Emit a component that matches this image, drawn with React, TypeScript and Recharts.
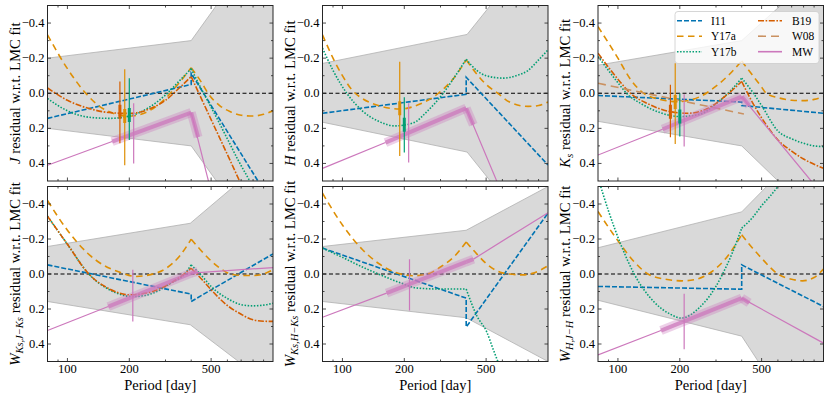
import React from 'react';
import { ComposedChart, Line, Area, XAxis, YAxis, ReferenceLine } from 'recharts';

// ---------- styles / legend ----------
const COLORS: Record<string, string> = {
  I11: '#0173B2', Y17a: '#DE8F05', Y17b: '#029E73', B19: '#D55E00', W08: '#CA9161', MW: '#CC78BC',
};
const DASH: Record<string, string | undefined> = {
  I11: '5 2', Y17a: '6.5 4.5', Y17b: '1.5 1.6', B19: '6 1.6 1.6 1.6', W08: '8 5', MW: undefined,
};
const CURVE: Record<string, string> = { I11: 'linear', Y17a: 'monotone', Y17b: 'monotone', B19: 'monotone', W08: 'linear' };
const LEGEND_COL1 = ['I11', 'Y17a', 'Y17b'];
const LEGEND_COL2 = ['B19', 'W08', 'MW'];

// ---------- axes ----------
const X_DOMAIN = [80, 1000];
const X_MAJOR = [100, 200, 500];
const X_MINOR = [90, 300, 400, 600, 700, 800, 900];
const Y_MAJOR = [-0.4, -0.2, 0, 0.2, 0.4];
const Y_MINOR = [-0.3, -0.1, 0.1, 0.3];
const X_LABEL = 'Period [day]';

// ---------- Panel 1: J ----------
const J_BAND = [[80, -0.2, 0.2], [400, -0.3, 0.3], [1000, -0.95, 0.95]];
const J_I11 = [[80, 0.143], [400, -0.05], [400, -0.114], [1000, 0.638]];
const J_Y17A_A = [[80, -0.333], [100, -0.14], [125, 0.01], [150, 0.09], [200, 0.13], [250, 0.1], [300, 0.03], [350, -0.06], [400, -0.145]];
const J_Y17A_B = [[400, -0.145], [450, -0.06], [483, 0.0], [550, 0.07], [617, 0.104], [700, 0.125], [800, 0.13], [900, 0.12], [1000, 0.1]];
const J_Y17B_A = [[80, 0.03], [100, 0.1], [130, 0.138], [160, 0.143], [200, 0.13], [250, 0.08], [300, 0.01], [350, -0.07], [400, -0.14]];
const J_Y17B_B = [[400, -0.14], [450, -0.02], [500, 0.08], [600, 0.26], [676, 0.38], [770, 0.5], [850, 0.6]];
const J_B19_A = [[80, -0.03], [100, 0.04], [130, 0.09], [160, 0.11], [200, 0.115], [250, 0.09], [300, 0.04], [350, -0.03], [400, -0.095]];
const J_B19_B = [[400, -0.095], [450, 0.035], [500, 0.15], [617, 0.38], [700, 0.52]];
const J_MW_THIN_A = [[80, 0.41], [165, 0.275]];
const J_MW_THIN_B = [[400, 0.11], [520, 0.64]];
const J_MW_THICK_A = [[165, 0.275], [400, 0.11]];
const J_MW_THICK_B = [[400, 0.11], [432, 0.25]];
const J_ERR = [['B19', 180, -0.067, 0.285, 0.105], ['Y17a', 190, -0.137, 0.41, 0.13], ['Y17b', 200, -0.086, 0.266, 0.124], ['MW', 210, 0.057, 0.4, 0.228]];

// ---------- Panel 2: H ----------
const H_BAND = [[80, -0.17, 0.165], [404, -0.335, 0.335], [1000, -0.91, 0.91]];
const H_I11 = [[80, 0.114], [400, 0.006], [400, -0.091], [1000, 0.409]];
const H_Y17A_A = [[80, -0.333], [90, -0.2], [100, -0.1], [111, -0.02], [125, 0.03], [150, 0.07], [190, 0.09], [240, 0.06], [293, 0.0], [350, -0.09], [400, -0.19]];
const H_Y17A_B = [[400, -0.19], [450, -0.11], [500, -0.05], [570, 0.0], [650, 0.05], [800, 0.075], [900, 0.07], [1000, 0.05]];
const H_Y17B_A = [[80, -0.257], [90, -0.13], [105, 0.0], [125, 0.1], [150, 0.16], [180, 0.186], [220, 0.17], [260, 0.1], [300, 0.02], [350, -0.09], [400, -0.194]];
const H_Y17B_B = [[400, -0.194], [450, -0.13], [500, -0.1], [607, -0.086], [700, -0.1], [800, -0.13], [900, -0.19], [1000, -0.247]];
const H_MW_THIN_A = [[80, 0.428], [162, 0.281]];
const H_MW_THIN_B = [[400, 0.085], [563, 0.5], [600, 0.58]];
const H_MW_THICK_A = [[162, 0.281], [400, 0.085]];
const H_MW_THICK_B = [[400, 0.085], [433, 0.18]];
const H_ERR = [['Y17a', 190, -0.18, 0.357, 0.086], ['Y17b', 200, 0.023, 0.338, 0.18], ['MW', 210, 0.057, 0.395, 0.228]];

// ---------- Panel 3: Ks ----------
const K_BAND = [[80, -0.16, 0.16], [400, -0.3, 0.3], [1000, -0.72, 0.75]];
const K_I11 = [[80, 0.013], [400, 0.05], [400, 0.07], [1000, 0.114]];
const K_W08 = [[80, -0.057], [410, 0.118]];
const K_Y17A_A = [[80, -0.38], [100, -0.2], [115, -0.08], [130, -0.01], [160, 0.035], [195, 0.048], [250, 0.02], [300, -0.04], [350, -0.11], [400, -0.184]];
const K_Y17A_B = [[400, -0.184], [450, -0.105], [500, -0.035], [526, 0.0], [600, 0.025], [700, 0.04], [800, 0.042], [900, 0.035], [1000, 0.019]];
const K_Y17B_A = [[80, -0.209], [100, -0.06], [110, 0.0], [130, 0.06], [160, 0.11], [200, 0.133], [250, 0.12], [300, 0.06], [350, -0.01], [400, -0.086]];
const K_Y17B_B = [[400, -0.086], [450, -0.01], [500, 0.07], [600, 0.215], [700, 0.26], [800, 0.285], [900, 0.3], [1000, 0.304]];
const K_B19_A = [[80, -0.228], [100, -0.08], [115, 0.0], [140, 0.06], [180, 0.105], [220, 0.114], [270, 0.09], [330, 0.02], [400, -0.067]];
const K_B19_B = [[400, -0.067], [450, 0.05], [500, 0.14], [600, 0.266], [700, 0.33], [800, 0.375], [900, 0.405], [1000, 0.428]];
const K_MW_THIN_A = [[80, 0.352], [165, 0.205]];
const K_MW_THIN_B = [[400, 0.019], [871, 0.5], [1000, 0.59]];
const K_MW_THICK_A = [[165, 0.205], [400, 0.019]];
const K_MW_THICK_B = [[400, 0.019], [435, 0.07]];
const K_ERR = [['B19', 180, -0.048, 0.251, 0.105], ['Y17a', 190, -0.171, 0.289, 0.05], ['Y17b', 200, 0.0, 0.247, 0.133], ['MW', 210, 0.006, 0.304, 0.155]];

// ---------- Panel 4: W Ks,J-Ks ----------
const W1_BAND = [[80, -0.157, 0.157], [396, -0.29, 0.29], [1000, -0.69, 0.65]];
const W1_I11 = [[80, -0.052], [400, 0.115], [400, 0.157], [1000, -0.115]];
const W1_Y17A_A = [[80, -0.42], [100, -0.25], [125, -0.12], [150, -0.05], [180, -0.01], [215, 0.014], [250, 0.005], [300, -0.03], [350, -0.1], [400, -0.199]];
const W1_Y17A_B = [[400, -0.199], [450, -0.13], [500, -0.075], [550, -0.035], [620, 0.0], [700, 0.008], [800, 0.009], [900, 0.0], [1000, -0.024]];
const W1_Y17B_A = [[80, -0.33], [100, -0.17], [127, 0.0], [160, 0.09], [210, 0.129], [260, 0.11], [320, 0.05], [372, 0.0], [400, -0.052]];
const W1_Y17B_B = [[400, -0.052], [450, 0.01], [500, 0.071], [600, 0.14], [700, 0.175], [800, 0.182], [900, 0.178], [1000, 0.167]];
const W1_B19_A = [[80, -0.33], [100, -0.17], [127, 0.0], [160, 0.085], [200, 0.119], [250, 0.105], [320, 0.05], [370, 0.0], [400, -0.033]];
const W1_B19_B = [[400, -0.033], [450, 0.03], [500, 0.09], [600, 0.18], [700, 0.23], [800, 0.262], [900, 0.27], [1000, 0.271]];
const W1_MW_THIN_A = [[80, 0.323], [158, 0.186]];
const W1_MW_THIN_B = [[400, -0.005], [1000, -0.037]];
const W1_MW_THICK_A = [[158, 0.186], [400, -0.005]];
const W1_MW_THICK_B = [[400, -0.005], [430, -0.016]];
const W1_ERR = [['MW', 208, -0.024, 0.271, 0.13]];

// ---------- Panel 5: W Ks,H-Ks ----------
const W2_BAND = [[80, -0.157, 0.157], [400, -0.25, 0.25], [1000, -0.5, 0.5]];
const W2_I11 = [[80, -0.148], [400, 0.138], [400, 0.303], [1000, -0.348]];
const W2_Y17A_A = [[80, -0.462], [100, -0.28], [125, -0.14], [150, -0.06], [180, -0.01], [221, 0.01], [260, 0.0], [300, -0.04], [350, -0.1], [400, -0.183]];
const W2_Y17A_B = [[400, -0.183], [450, -0.115], [500, -0.06], [585, -0.01], [650, 0.0], [750, 0.005], [850, -0.005], [1000, -0.047]];
const W2_Y17B_A = [[80, -0.148], [100, -0.095], [125, -0.04], [153, 0.005], [191, 0.05], [230, 0.08], [300, 0.086], [400, 0.086]];
const W2_Y17B_B = [[400, 0.086], [451, 0.24], [503, 0.33], [541, 0.43], [575, 0.51], [620, 0.6]];
const W2_MW_THIN_A = [[80, 0.247], [164, 0.109]];
const W2_MW_THIN_B = [[434, -0.085], [733, -0.252], [1000, -0.35]];
const W2_MW_THICK_A = [[164, 0.109], [400, -0.069]];
const W2_MW_THICK_B = [[400, -0.069], [434, -0.085]];
const W2_ERR = [['MW', 212, -0.085, 0.209, 0.065]];

// ---------- Panel 6: W H,J-H ----------
const W3_BAND = [[80, -0.15, 0.15], [400, -0.355, 0.355], [1000, -0.83, 1.07]];
const W3_I11 = [[80, 0.071], [400, 0.087], [400, -0.052], [1000, 0.186]];
const W3_Y17A_A = [[80, -0.357], [100, -0.19], [120, -0.07], [140, 0.0], [170, 0.03], [205, 0.039], [240, 0.03], [275, 0.0], [330, -0.08], [400, -0.224]];
const W3_Y17A_B = [[400, -0.224], [450, -0.15], [500, -0.09], [600, 0.0], [700, 0.03], [790, 0.039], [900, 0.02], [1000, -0.028]];
const W3_Y17B_A = [[80, -0.55], [90, -0.36], [104, -0.16], [120, 0.0], [150, 0.16], [180, 0.23], [203, 0.252], [250, 0.19], [300, 0.07], [323, 0.0], [360, -0.12], [400, -0.262]];
const W3_Y17B_B = [[400, -0.262], [450, -0.32], [500, -0.39], [550, -0.445], [600, -0.5], [700, -0.62]];
const W3_MW_THIN_A = [[80, 0.462], [162, 0.323]];
const W3_MW_THIN_B = [[400, 0.138], [1000, 0.395]];
const W3_MW_THICK_A = [[162, 0.323], [400, 0.138]];
const W3_MW_THICK_B = [[400, 0.138], [435, 0.165]];
const W3_ERR = [['MW', 210, 0.113, 0.43, 0.27]];

// ---------- layout ----------
const W = 830;
const H = 397;
const FONT = "'Liberation Serif', 'DejaVu Serif', serif";
const COL_X = [[47.5, 273], [322.5, 548], [598, 823.5]];
const ROW_Y = [[5.5, 181], [186.5, 361.5]];

type Box = { l: number; r: number; t: number; b: number };

const pts = (a: number[][]) => a.map(([P, v]) => ({ P, v }));
const bandPts = (a: number[][]) => a.map(([P, lo, hi]) => ({ P, r: [lo, hi] }));

const PANELS = [
  {
    col: 0, row: 0, band: J_BAND,
    series: [['I11', J_I11], ['Y17a', J_Y17A_A, J_Y17A_B], ['Y17b', J_Y17B_A, J_Y17B_B], ['B19', J_B19_A, J_B19_B]],
    mwThin: [J_MW_THIN_A, J_MW_THIN_B], mwThick: [J_MW_THICK_A, J_MW_THICK_B], errs: J_ERR,
    title: { main: 'J', sub: '' },
  },
  {
    col: 1, row: 0, band: H_BAND,
    series: [['I11', H_I11], ['Y17a', H_Y17A_A, H_Y17A_B], ['Y17b', H_Y17B_A, H_Y17B_B]],
    mwThin: [H_MW_THIN_A, H_MW_THIN_B], mwThick: [H_MW_THICK_A, H_MW_THICK_B], errs: H_ERR,
    title: { main: 'H', sub: '' },
  },
  {
    col: 2, row: 0, band: K_BAND,
    series: [['I11', K_I11], ['Y17a', K_Y17A_A, K_Y17A_B], ['Y17b', K_Y17B_A, K_Y17B_B], ['B19', K_B19_A, K_B19_B], ['W08', K_W08]],
    mwThin: [K_MW_THIN_A, K_MW_THIN_B], mwThick: [K_MW_THICK_A, K_MW_THICK_B], errs: K_ERR,
    title: { main: 'K', sub: 's' },
  },
  {
    col: 0, row: 1, band: W1_BAND,
    series: [['I11', W1_I11], ['Y17a', W1_Y17A_A, W1_Y17A_B], ['Y17b', W1_Y17B_A, W1_Y17B_B], ['B19', W1_B19_A, W1_B19_B]],
    mwThin: [W1_MW_THIN_A, W1_MW_THIN_B], mwThick: [W1_MW_THICK_A, W1_MW_THICK_B], errs: W1_ERR,
    title: { main: 'W', sub: 'Ks,J\u2212Ks' },
  },
  {
    col: 1, row: 1, band: W2_BAND,
    series: [['I11', W2_I11], ['Y17a', W2_Y17A_A, W2_Y17A_B], ['Y17b', W2_Y17B_A, W2_Y17B_B]],
    mwThin: [W2_MW_THIN_A, W2_MW_THIN_B], mwThick: [W2_MW_THICK_A, W2_MW_THICK_B], errs: W2_ERR,
    title: { main: 'W', sub: 'Ks,H\u2212Ks' },
  },
  {
    col: 2, row: 1, band: W3_BAND,
    series: [['I11', W3_I11], ['Y17a', W3_Y17A_A, W3_Y17A_B], ['Y17b', W3_Y17B_A, W3_Y17B_B]],
    mwThin: [W3_MW_THIN_A, W3_MW_THIN_B], mwThick: [W3_MW_THICK_A, W3_MW_THICK_B], errs: W3_ERR,
    title: { main: 'W', sub: 'H,J\u2212H' },
  },
];

const X_TICKS = [...X_MINOR, ...X_MAJOR].sort((a, b) => a - b);
const Y_TICKS = [...Y_MINOR, ...Y_MAJOR].sort((a, b) => a - b);

const fmtY = (v: number) => (Math.abs(v) < 1e-9 ? '0.0' : (v < 0 ? '\u2212' : '') + Math.abs(v).toFixed(1));

const makeXTick = (box: Box, showLabel: boolean) => (props: any) => {
  const { x, payload } = props;
  const v = payload.value;
  const major = X_MAJOR.includes(v);
  const len = major ? 3.5 : 2;
  return (
    <g>
      <line x1={x} x2={x} y1={box.b} y2={box.b - len} stroke="#222" strokeWidth={0.8} />
      <line x1={x} x2={x} y1={box.t} y2={box.t + len} stroke="#222" strokeWidth={0.8} />
      {showLabel && major ? (
        <text x={x} y={box.b + 11} textAnchor="middle" fontSize={12.5} fontFamily={FONT} fill="#000">{v}</text>
      ) : null}
    </g>
  );
};

const makeYTick = (box: Box) => (props: any) => {
  const { y, payload } = props;
  const v = payload.value;
  const major = Y_MAJOR.some((m) => Math.abs(m - v) < 1e-9);
  const len = major ? 3.5 : 2;
  return (
    <g>
      <line x1={box.l} x2={box.l + len} y1={y} y2={y} stroke="#222" strokeWidth={0.8} />
      <line x1={box.r} x2={box.r - len} y1={y} y2={y} stroke="#222" strokeWidth={0.8} />
      {major ? (
        <text x={box.l - 3} y={y} textAnchor="end" dominantBaseline="central" fontSize={12.5} fontFamily={FONT} fill="#000">{fmtY(v)}</text>
      ) : null}
    </g>
  );
};

function Panel({ cfg }: { cfg: any }) {
  const box: Box = { l: COL_X[cfg.col][0], r: COL_X[cfg.col][1], t: ROW_Y[cfg.row][0], b: ROW_Y[cfg.row][1] };
  const margin = { top: box.t, left: box.l - 1, right: W - box.r, bottom: H - box.b - 1 };
  const lines: any[] = [];
  cfg.series.forEach((s: any[]) => {
    const name = s[0] as string;
    s.slice(1).forEach((seg: number[][], i: number) => {
      lines.push(
        <Line key={`${name}-${i}`} data={pts(seg)} dataKey="v" type={CURVE[name] as any} stroke={COLORS[name]}
          strokeWidth={1.6} strokeDasharray={DASH[name]} dot={false} activeDot={false} isAnimationActive={false} />
      );
    });
  });
  cfg.mwThin.forEach((seg: number[][], i: number) => {
    lines.push(<Line key={`mwthin-${i}`} data={pts(seg)} dataKey="v" type="linear" stroke={COLORS.MW}
      strokeWidth={1.2} dot={false} activeDot={false} isAnimationActive={false} />);
  });
  cfg.mwThick.forEach((seg: number[][], i: number) => {
    lines.push(<Line key={`mwhalo-${i}`} data={pts(seg)} dataKey="v" type="linear" stroke={COLORS.MW}
      strokeOpacity={0.35} strokeWidth={9} dot={false} activeDot={false} isAnimationActive={false} />);
    lines.push(<Line key={`mwthick-${i}`} data={pts(seg)} dataKey="v" type="linear" stroke={COLORS.MW}
      strokeOpacity={0.75} strokeWidth={4} dot={false} activeDot={false} isAnimationActive={false} />);
  });
  cfg.errs.forEach((e: any[], i: number) => {
    const [name, P, lo, hi, c] = e;
    lines.push(<Line key={`err-${i}`} data={[{ P, v: lo }, { P, v: hi }]} dataKey="v" type="linear" stroke={COLORS[name]}
      strokeWidth={1.2} dot={false} activeDot={false} isAnimationActive={false} />);
    if (name !== 'MW') {
      lines.push(<Line key={`errc-${i}`} data={[{ P, v: c - 0.04 }, { P, v: c + 0.04 }]} dataKey="v" type="linear" stroke={COLORS[name]}
        strokeWidth={3} dot={false} activeDot={false} isAnimationActive={false} />);
    }
  });
  return (
    <div style={{ position: 'absolute', left: 0, top: 0 }}>
      <ComposedChart width={W} height={H} margin={margin}>
        <XAxis xAxisId={0} dataKey="P" type="number" scale="log" domain={X_DOMAIN} allowDataOverflow ticks={X_TICKS} interval={0}
          height={1} axisLine={false} tickLine={false} tickSize={0} tick={makeXTick(box, cfg.row === 1)} />
        <YAxis yAxisId={0} type="number" domain={[-0.5, 0.5]} reversed allowDataOverflow ticks={Y_TICKS} interval={0}
          width={1} axisLine={false} tickLine={false} tickSize={0} tick={makeYTick(box)} />
        <Area data={bandPts(cfg.band)} dataKey="r" type="linear" fill="#d9d9d9" fillOpacity={1} stroke="#b0b0b0"
          strokeWidth={0.8} dot={false} activeDot={false} isAnimationActive={false} />
        <ReferenceLine y={0} stroke="#000" strokeWidth={1.2} strokeDasharray="4 2.5" />
        {lines}
      </ComposedChart>
    </div>
  );
}

function Overlay() {
  const legendRows = [0, 1, 2];
  const rowY = [20.7, 36.2, 51.7];
  return (
    <svg width={W} height={H} style={{ position: 'absolute', left: 0, top: 0, pointerEvents: 'none' }}>
      {PANELS.map((p, i) => {
        const l = COL_X[p.col][0];
        const r = COL_X[p.col][1];
        const t = ROW_Y[p.row][0];
        const b = ROW_Y[p.row][1];
        const cx = l - 28;
        const cy = (t + b) / 2;
        return (
          <g key={`t-${i}`}>
            <rect x={l} y={t} width={r - l} height={b - t} fill="none" stroke="#262626" strokeWidth={1} />
            <text transform={`translate(${cx},${cy}) rotate(-90)`} textAnchor="middle" fontSize={14.7} fontFamily={FONT} fill="#000">
              <tspan fontStyle="italic">{p.title.main}</tspan>
              {p.title.sub ? <tspan fontStyle="italic" fontSize={10.5} dy={3}>{p.title.sub}</tspan> : null}
              <tspan dy={p.title.sub ? -3 : 0}>{' residual w.r.t. LMC fit'}</tspan>
            </text>
            {p.row === 1 ? (
              <text x={(l + r) / 2} y={389.5} textAnchor="middle" fontSize={14.5} fontFamily={FONT} fill="#000">{X_LABEL}</text>
            ) : null}
          </g>
        );
      })}
      <rect x={675} y={11.5} width={144} height={52} rx={3} fill="#fff" fillOpacity={0.8} stroke="#cccccc" strokeWidth={0.8} />
      {legendRows.map((k) => (
        <g key={`lg-${k}`}>
          <line x1={677} x2={702} y1={rowY[k]} y2={rowY[k]} stroke={COLORS[LEGEND_COL1[k]]} strokeWidth={1.6} strokeDasharray={DASH[LEGEND_COL1[k]]} />
          <text x={711} y={rowY[k]} dominantBaseline="central" fontSize={11.5} fontFamily={FONT} fill="#000">{LEGEND_COL1[k]}</text>
          <line x1={758} x2={782} y1={rowY[k]} y2={rowY[k]} stroke={COLORS[LEGEND_COL2[k]]} strokeWidth={1.6} strokeDasharray={DASH[LEGEND_COL2[k]]} />
          <text x={792} y={rowY[k]} dominantBaseline="central" fontSize={11.5} fontFamily={FONT} fill="#000">{LEGEND_COL2[k]}</text>
        </g>
      ))}
    </svg>
  );
}

export default function App() {
  return (
    <div style={{ position: 'absolute', left: 0, top: 0, width: W, height: H, background: '#fff', fontFamily: FONT }}>
      {PANELS.map((p, i) => (
        <Panel key={i} cfg={p} />
      ))}
      <Overlay />
    </div>
  );
}
